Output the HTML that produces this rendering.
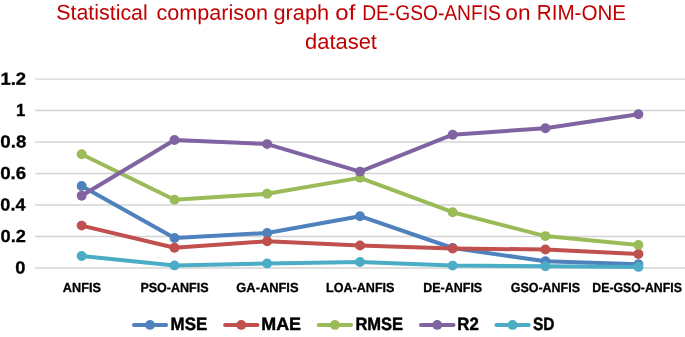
<!DOCTYPE html>
<html lang="en"><head><meta charset="utf-8"><title>Statistical comparison graph of DE-GSO-ANFIS on RIM-ONE dataset</title>
<style>
html,body{margin:0;padding:0;background:#fff;}
svg{display:block;}
text{font-family:"Liberation Sans",sans-serif;}
.title{fill:#C00000;font-size:21.3px;}
.b{font-weight:bold;fill:#000;stroke:#000;}
.y{font-size:17.5px;stroke-width:0.3px;} .x{font-size:13.2px;stroke-width:0.3px;} .leg{font-size:17.8px;stroke-width:0.45px;}
.grid line{stroke:#D4D4D4;stroke-width:1.3;}
polyline{fill:none;stroke-width:4.0;stroke-linejoin:round;stroke-linecap:round;}
.lg line{stroke-width:4.0;stroke-linecap:round;}
</style></head><body>
<svg width="685" height="337" viewBox="0 0 685 337" role="img" aria-label="Line chart">
<rect width="685" height="337" fill="#ffffff"/>
<g class="grid">
<line x1="35.2" x2="685" y1="268.00" y2="268.00"/>
<line x1="35.2" x2="685" y1="236.50" y2="236.50"/>
<line x1="35.2" x2="685" y1="205.00" y2="205.00"/>
<line x1="35.2" x2="685" y1="173.50" y2="173.50"/>
<line x1="35.2" x2="685" y1="142.00" y2="142.00"/>
<line x1="35.2" x2="685" y1="110.50" y2="110.50"/>
<line x1="35.2" x2="685" y1="79.15" y2="79.15"/>
</g>
<text class="title" y="19.75" transform="rotate(0.03 340 19.75)">
<tspan x="56.26" textLength="91.52" lengthAdjust="spacingAndGlyphs">Statistical</tspan> <tspan x="156.55" textLength="111.44" lengthAdjust="spacingAndGlyphs">comparison</tspan> <tspan x="273.54" textLength="55.6" lengthAdjust="spacingAndGlyphs">graph</tspan> <tspan x="335.27" textLength="20.06" lengthAdjust="spacingAndGlyphs">of</tspan> <tspan x="362.14" textLength="138.72" lengthAdjust="spacingAndGlyphs">DE-GSO-ANFIS</tspan> <tspan x="505.38" textLength="25.18" lengthAdjust="spacingAndGlyphs">on</tspan> <tspan x="536.8" textLength="89.19" lengthAdjust="spacingAndGlyphs">RIM-ONE</tspan>
</text>
<text class="title" x="305.13" y="48.7" transform="rotate(0.03 305.13 48.7)" textLength="71.82" lengthAdjust="spacingAndGlyphs">dataset</text>
<g class="b y">
<text x="15.33" y="273.5" transform="rotate(0.03 15.33 273.5)" textLength="10.18" lengthAdjust="spacingAndGlyphs">0</text>
<text x="0.64" y="242.0" transform="rotate(0.03 0.64 242.0)" textLength="25.31" lengthAdjust="spacingAndGlyphs">0.2</text>
<text x="0.35" y="210.5" transform="rotate(0.03 0.35 210.5)" textLength="25.17" lengthAdjust="spacingAndGlyphs">0.4</text>
<text x="0.2" y="179.0" transform="rotate(0.03 0.2 179.0)" textLength="26.05" lengthAdjust="spacingAndGlyphs">0.6</text>
<text x="0.3" y="147.5" transform="rotate(0.03 0.3 147.5)" textLength="25.98" lengthAdjust="spacingAndGlyphs">0.8</text>
<text x="15.91" y="116.0" transform="rotate(0.03 15.91 116.0)" textLength="9.23" lengthAdjust="spacingAndGlyphs">1</text>
<text x="0.44" y="84.65" transform="rotate(0.03 0.44 84.65)" textLength="25.67" lengthAdjust="spacingAndGlyphs">1.2</text>
</g>
<g fill="#4F81BD" stroke="#4F81BD"><polyline points="81.64,185.96 174.50,238.00 267.15,233.00 360.00,216.20 452.65,248.00 545.40,261.20 638.40,264.30"/>
<circle cx="81.64" cy="185.96" r="4.95" stroke="none"/><circle cx="174.50" cy="238.00" r="4.95" stroke="none"/><circle cx="267.15" cy="233.00" r="4.95" stroke="none"/><circle cx="360.00" cy="216.20" r="4.95" stroke="none"/><circle cx="452.65" cy="248.00" r="4.95" stroke="none"/><circle cx="545.40" cy="261.20" r="4.95" stroke="none"/><circle cx="638.40" cy="264.30" r="4.95" stroke="none"/>
</g>
<g fill="#C0504D" stroke="#C0504D"><polyline points="81.64,225.60 174.50,247.70 267.15,241.30 360.00,245.55 452.65,248.45 545.40,249.55 638.40,254.00"/>
<circle cx="81.64" cy="225.60" r="4.95" stroke="none"/><circle cx="174.50" cy="247.70" r="4.95" stroke="none"/><circle cx="267.15" cy="241.30" r="4.95" stroke="none"/><circle cx="360.00" cy="245.55" r="4.95" stroke="none"/><circle cx="452.65" cy="248.45" r="4.95" stroke="none"/><circle cx="545.40" cy="249.55" r="4.95" stroke="none"/><circle cx="638.40" cy="254.00" r="4.95" stroke="none"/>
</g>
<g fill="#9BBB59" stroke="#9BBB59"><polyline points="81.64,154.30 174.50,199.70 267.15,193.80 360.00,177.85 452.65,212.20 545.40,236.10 638.40,244.90"/>
<circle cx="81.64" cy="154.30" r="4.95" stroke="none"/><circle cx="174.50" cy="199.70" r="4.95" stroke="none"/><circle cx="267.15" cy="193.80" r="4.95" stroke="none"/><circle cx="360.00" cy="177.85" r="4.95" stroke="none"/><circle cx="452.65" cy="212.20" r="4.95" stroke="none"/><circle cx="545.40" cy="236.10" r="4.95" stroke="none"/><circle cx="638.40" cy="244.90" r="4.95" stroke="none"/>
</g>
<g fill="#8064A2" stroke="#8064A2"><polyline points="81.64,195.80 174.50,139.96 267.15,144.10 360.00,171.60 452.65,134.70 545.40,128.20 638.40,114.20"/>
<circle cx="81.64" cy="195.80" r="4.95" stroke="none"/><circle cx="174.50" cy="139.96" r="4.95" stroke="none"/><circle cx="267.15" cy="144.10" r="4.95" stroke="none"/><circle cx="360.00" cy="171.60" r="4.95" stroke="none"/><circle cx="452.65" cy="134.70" r="4.95" stroke="none"/><circle cx="545.40" cy="128.20" r="4.95" stroke="none"/><circle cx="638.40" cy="114.20" r="4.95" stroke="none"/>
</g>
<g fill="#4BACC6" stroke="#4BACC6"><polyline points="81.64,256.00 174.50,265.40 267.15,263.50 360.00,262.00 452.65,265.60 545.40,266.20 638.40,266.90"/>
<circle cx="81.64" cy="256.00" r="4.95" stroke="none"/><circle cx="174.50" cy="265.40" r="4.95" stroke="none"/><circle cx="267.15" cy="263.50" r="4.95" stroke="none"/><circle cx="360.00" cy="262.00" r="4.95" stroke="none"/><circle cx="452.65" cy="265.60" r="4.95" stroke="none"/><circle cx="545.40" cy="266.20" r="4.95" stroke="none"/><circle cx="638.40" cy="266.90" r="4.95" stroke="none"/>
</g>
<g class="b x">
<text x="62.86" y="291.9" transform="rotate(0.03 62.86 291.9)" textLength="38.01" lengthAdjust="spacingAndGlyphs">ANFIS</text>
<text x="140.38" y="291.9" transform="rotate(0.03 140.38 291.9)" textLength="68.14" lengthAdjust="spacingAndGlyphs">PSO-ANFIS</text>
<text x="236.35" y="291.9" transform="rotate(0.03 236.35 291.9)" textLength="62.14" lengthAdjust="spacingAndGlyphs">GA-ANFIS</text>
<text x="326.05" y="291.9" transform="rotate(0.03 326.05 291.9)" textLength="68.45" lengthAdjust="spacingAndGlyphs">LOA-ANFIS</text>
<text x="423.23" y="291.9" transform="rotate(0.03 423.23 291.9)" textLength="58.96" lengthAdjust="spacingAndGlyphs">DE-ANFIS</text>
<text x="510.82" y="291.9" transform="rotate(0.03 510.82 291.9)" textLength="69.13" lengthAdjust="spacingAndGlyphs">GSO-ANFIS</text>
<text x="592.27" y="291.9" transform="rotate(0.03 592.27 291.9)" textLength="89.65" lengthAdjust="spacingAndGlyphs">DE-GSO-ANFIS</text>
</g>
<g class="lg">
<line x1="134.00" x2="166.10" y1="324.9" y2="324.9" stroke="#4F81BD"/>
<circle cx="150.05" cy="324.9" r="4.95" fill="#4F81BD"/>
<text class="b leg" x="170.62" y="330.1" transform="rotate(0.03 170.62 330.1)" textLength="36.61" lengthAdjust="spacingAndGlyphs">MSE</text>
<line x1="225.10" x2="257.40" y1="324.9" y2="324.9" stroke="#C0504D"/>
<circle cx="241.25" cy="324.9" r="4.95" fill="#C0504D"/>
<text class="b leg" x="261.31" y="330.1" transform="rotate(0.03 261.31 330.1)" textLength="39.69" lengthAdjust="spacingAndGlyphs">MAE</text>
<line x1="318.75" x2="351.05" y1="324.9" y2="324.9" stroke="#9BBB59"/>
<circle cx="334.90" cy="324.9" r="4.95" fill="#9BBB59"/>
<text class="b leg" x="355.38" y="330.1" transform="rotate(0.03 355.38 330.1)" textLength="47.76" lengthAdjust="spacingAndGlyphs">RMSE</text>
<line x1="421.00" x2="453.50" y1="324.9" y2="324.9" stroke="#8064A2"/>
<circle cx="437.25" cy="324.9" r="4.95" fill="#8064A2"/>
<text class="b leg" x="457.36" y="330.1" transform="rotate(0.03 457.36 330.1)" textLength="21.45" lengthAdjust="spacingAndGlyphs">R2</text>
<line x1="496.40" x2="528.70" y1="324.9" y2="324.9" stroke="#4BACC6"/>
<circle cx="512.55" cy="324.9" r="4.95" fill="#4BACC6"/>
<text class="b leg" x="533.0" y="330.1" transform="rotate(0.03 533.0 330.1)" textLength="21.48" lengthAdjust="spacingAndGlyphs">SD</text>
</g>
</svg></body></html>
